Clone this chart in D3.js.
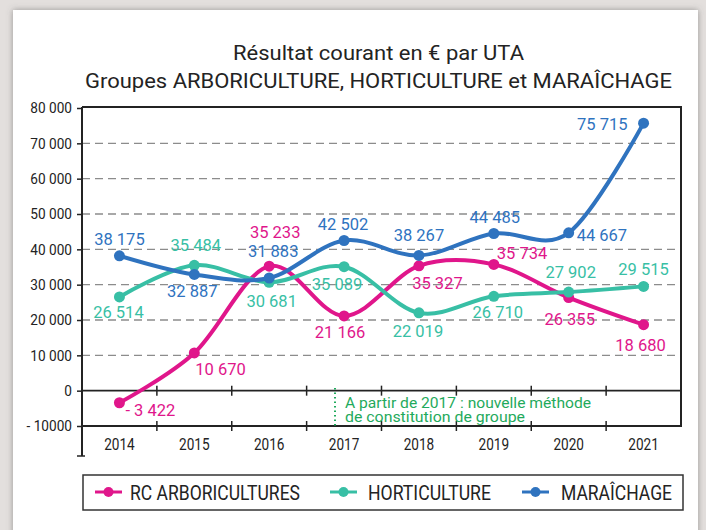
<!DOCTYPE html>
<html>
<head>
<meta charset="utf-8">
<script src="https://cdn.jsdelivr.net/npm/d3@7"></script>
<style>
  html, body { margin: 0; padding: 0; background: #e3dfdd; }
  svg { display: block; }
</style>
</head>
<body>
<div id="chart"></div>
<script>
// Chart data;
var years = ["2014", "2015", "2016", "2017", "2018", "2019", "2020", "2021"]
var arboriculture = [-3422, 10670, 35233, 21166, 35327, 35734, 26355, 18680]
var horticulture = [26514, 35484, 30681, 35089, 22019, 26710, 27902, 29515]
var maraichage = [38175, 32887, 31883, 42502, 38267, 44485, 44667, 75715]
var seriesNames = ["RC ARBORICULTURES", "HORTICULTURE", "MARAÎCHAGE"]
var yTicks = [-10000, 0, 10000, 20000, 30000, 40000, 50000, 60000, 70000, 80000]
var yTickLabels = ["- 10000", "0", "10 000", "20 000", "30 000", "40 000", "50 000", "60 000", "70 000", "80 000"]
var titleLines = ["Résultat courant en € par UTA", "Groupes ARBORICULTURE, HORTICULTURE et MARAÎCHAGE"]
var noteLines = ["A partir de 2017 : nouvelle méthode", "de constitution de groupe"]

// Colours;
const pink = "#e0168b"
const teal = "#38bfa5"
const blue = "#2f73bf"
const dark = "#232323"
const green = "#1faa5c"

// Label offsets (dx, dy, anchor) around each point;
var labelPos = [
    [[6, 7, "start"], [1, 16, "start"], [6, -33.5, "middle"], [-4, 16.5, "middle"], [18.5, 17, "middle"], [3, -11.5, "start"], [1, 22, "middle"], [-3, 21, "middle"]],
    [[-1, 15, "middle"], [1.5, -19.6, "middle"], [2.5, 19, "middle"], [-7, 18, "middle"], [-1, 18.5, "middle"], [4, 16, "middle"], [2, -20, "middle"], [0, -17.5, "middle"]],
    [[0, -17, "middle"], [-2, 17, "middle"], [4, -27, "middle"], [-1, -16, "middle"], [0, -20, "middle"], [1, -16, "middle"], [8, 2, "start"], [-16, 1.5, "end"]]
]

var width = 706
var height = 530
var margin = { left: 82, right: 681, top: 108, bottom: 426 }

const svg = d3.select("#chart").append("svg")
    .attr("width", width)
    .attr("height", height)

// Card with a soft shadow;
const defs = svg.append("defs")
const shadow = defs.append("filter").attr("id", "shadow")
    .attr("x", "-5%").attr("y", "-5%").attr("width", "110%").attr("height", "110%")
shadow.append("feDropShadow")
    .attr("dx", 0).attr("dy", 0).attr("stdDeviation", 3)
    .attr("flood-color", "#555").attr("flood-opacity", 0.55)

svg.append("rect")
    .attr("x", 13).attr("y", 10)
    .attr("width", 685).attr("height", 540)
    .attr("fill", "#fff")
    .attr("filter", "url(#shadow)")

/////////////////////////////

var x = d3.scaleBand().domain(years).range([margin.left, margin.right]).padding(0)
var y = d3.scaleLinear().domain([-10000, 80000]).range([margin.bottom, margin.top])
var cx = d => x(d) + x.bandwidth() / 2

// Title;
svg.append("g").selectAll("text")
    .data(titleLines)
    .join("text")
    .attr("x", 378.5)
    .attr("y", (d, i) => 59.5 + i * 28)
    .attr("text-anchor", "middle")
    .attr("font-family", "Roboto, sans-serif")
    .attr("font-size", 21)
    .attr("fill", dark)
    .attr("textLength", (d, i) => i == 0 ? 291 : 587)
    .attr("lengthAdjust", "spacingAndGlyphs")
    .text(d => d)

// Dashed gridlines;
svg.append("g").selectAll("line")
    .data(yTicks.filter(v => v > 0 && v < 80000))
    .join("line")
    .attr("x1", margin.left).attr("x2", margin.right)
    .attr("y1", d => y(d)).attr("y2", d => y(d))
    .attr("stroke", "#8c8c8c")
    .attr("stroke-width", 1.3)
    .attr("stroke-dasharray", "8,5")

// Y axis;
const yAxis = svg.append("g")
    .attr("transform", `translate(${margin.left},0)`)
    .call(d3.axisLeft(y).tickValues(yTicks).tickSize(5).tickFormat((d, i) => yTickLabels[i]))
yAxis.select(".domain").remove()
yAxis.selectAll(".tick line").attr("stroke", dark).attr("stroke-width", 1.5)
yAxis.selectAll(".tick text")
    .attr("font-family", "Roboto, sans-serif")
    .attr("font-size", 15.5)
    .attr("fill", dark)
    .attr("x", -10 / 0.88)
    .attr("transform", "scale(0.88,1)")
yAxis.append("line")
    .attr("x1", 0).attr("x2", 0)
    .attr("y1", margin.top - 1).attr("y2", 456)
    .attr("stroke", dark).attr("stroke-width", 2)
yAxis.append("line")
    .attr("x1", -5).attr("x2", 3)
    .attr("y1", 456).attr("y2", 456)
    .attr("stroke", dark).attr("stroke-width", 1.5)

// Frame: top, right, zero line and bottom line;
svg.append("line")
    .attr("x1", margin.left).attr("x2", margin.right)
    .attr("y1", margin.top - 1).attr("y2", margin.top - 1)
    .attr("stroke", dark).attr("stroke-width", 2)
svg.append("line")
    .attr("x1", margin.right).attr("x2", margin.right)
    .attr("y1", margin.top - 2).attr("y2", margin.bottom + 1)
    .attr("stroke", dark).attr("stroke-width", 2)

;[0, -10000].forEach(v => {
    svg.append("line")
        .attr("x1", margin.left).attr("x2", margin.right)
        .attr("y1", y(v)).attr("y2", y(v))
        .attr("stroke", dark).attr("stroke-width", v == 0 ? 1.6 : 2)
    svg.append("g").selectAll("line")
        .data(years.slice(1))
        .join("line")
        .attr("x1", d => x(d)).attr("x2", d => x(d))
        .attr("y1", y(v) - 5).attr("y2", y(v) + 5)
        .attr("stroke", dark).attr("stroke-width", 1.5)
})

// X labels;
svg.append("g").selectAll("text")
    .data(years)
    .join("text")
    .attr("transform", d => `translate(${cx(d)},450) scale(0.85,1)`)
    .attr("text-anchor", "middle")
    .attr("font-family", "Roboto, sans-serif")
    .attr("font-size", 16)
    .attr("fill", dark)
    .text(d => d)

// Note about 2017;
svg.append("line")
    .attr("x1", 335).attr("x2", 335)
    .attr("y1", 388).attr("y2", margin.bottom)
    .attr("stroke", green).attr("stroke-width", 2)
    .attr("stroke-dasharray", "1.5,3")
svg.append("g").selectAll("text")
    .data(noteLines)
    .join("text")
    .attr("x", 345)
    .attr("y", (d, i) => 407.5 + i * 14)
    .attr("font-family", "Roboto, sans-serif")
    .attr("font-size", 14.5)
    .attr("fill", green)
    .attr("textLength", (d, i) => i == 0 ? 246 : 180)
    .attr("lengthAdjust", "spacingAndGlyphs")
    .text(d => d)

/////////////////////////////

// Series;
var series = [arboriculture, horticulture, maraichage]
var colors = [pink, teal, blue]

var line = d3.line()
    .x((d, i) => cx(years[i]))
    .y(d => y(d))
    .curve(d3.curveCardinal.tension(0))

var fmt = v => (v < 0 ? "- " : "") + d3.format(",")(Math.abs(v)).replace(/,/g, " ")

series.forEach((values, s) => {
    const g = svg.append("g")
    g.append("path")
        .datum(values)
        .attr("d", line)
        .attr("fill", "none")
        .attr("stroke", colors[s])
        .attr("stroke-width", 4)
        .attr("stroke-linejoin", "round")
    g.selectAll("circle")
        .data(values)
        .join("circle")
        .attr("cx", (d, i) => cx(years[i]))
        .attr("cy", d => y(d))
        .attr("r", 5.5)
        .attr("fill", colors[s])
})

// Value labels drawn on top of all the lines;
series.forEach((values, s) => {
    svg.append("g").selectAll("text")
        .data(values)
        .join("text")
        .attr("x", (d, i) => cx(years[i]) + labelPos[s][i][0])
        .attr("y", (d, i) => y(d) + labelPos[s][i][1])
        .attr("dy", "0.35em")
        .attr("text-anchor", (d, i) => labelPos[s][i][2])
        .attr("font-family", "Roboto, sans-serif")
        .attr("font-size", 16.5)
        .attr("fill", colors[s])
        .text(d => fmt(d))
})

/////////////////////////////

// Legend;
svg.append("rect")
    .attr("x", 83).attr("y", 475)
    .attr("width", 600).attr("height", 35)
    .attr("fill", "none")
    .attr("stroke", "#333").attr("stroke-width", 1.5)

var legendX = [95, 330, 522]
var legendTextX = [130, 368, 561]
var legendTextLen = [170, 123, 111]

const legend = svg.append("g").selectAll("g")
    .data(seriesNames)
    .join("g")
legend.append("line")
    .attr("x1", (d, i) => legendX[i]).attr("x2", (d, i) => legendX[i] + 27)
    .attr("y1", 492).attr("y2", 492)
    .attr("stroke", (d, i) => colors[i]).attr("stroke-width", 3)
legend.append("circle")
    .attr("cx", (d, i) => legendX[i] + 13.5).attr("cy", 492)
    .attr("r", 5)
    .attr("fill", (d, i) => colors[i])
legend.append("text")
    .attr("x", (d, i) => legendTextX[i])
    .attr("y", 499.5)
    .attr("font-family", "Roboto, sans-serif")
    .attr("font-size", 20.5)
    .attr("fill", dark)
    .attr("textLength", (d, i) => legendTextLen[i])
    .attr("lengthAdjust", "spacingAndGlyphs")
    .text(d => d)
</script>
</body>
</html>
